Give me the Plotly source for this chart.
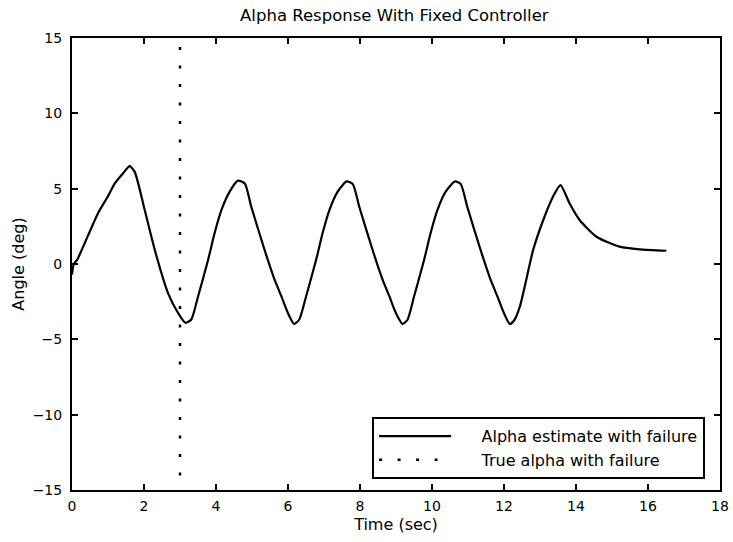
import plotly.graph_objects as go

# Alpha estimate with failure (time in sec, angle in deg)
time_est = [0, 0.05, 0.15, 0.35, 0.72, 1.0, 1.19, 1.42, 1.6, 1.74, 2.02, 2.30, 2.67, 2.95,
            3.15, 3.31, 3.5, 3.78, 3.96, 4.15, 4.38, 4.61, 4.80, 4.98, 5.35, 5.63, 5.82, 6.0,
            6.17, 6.31, 6.5, 6.78, 6.96, 7.15, 7.38, 7.63, 7.80, 7.98, 8.35, 8.63, 8.82, 9.0,
            9.18, 9.32, 9.5, 9.78, 9.96, 10.15, 10.38, 10.64, 10.80, 10.98, 11.35, 11.63, 11.82, 12.0,
            12.16, 12.28, 12.44, 12.81, 13.09, 13.36, 13.57, 13.82, 14.10, 14.57, 15.21, 15.77, 16.51]
alpha_est = [-0.7, 0.0, 0.3, 1.37, 3.36, 4.5, 5.35, 6.02, 6.5, 6.13, 3.58, 0.93, -1.95, -3.27,
             -3.9, -3.7, -2.17, 0.27, 2.04, 3.58, 4.8, 5.53, 5.35, 3.8, 0.93, -1.06, -2.17, -3.27,
             -3.98, -3.7, -2.17, 0.27, 2.04, 3.58, 4.8, 5.48, 5.3, 3.8, 0.93, -1.06, -2.17, -3.27,
             -3.98, -3.7, -2.17, 0.27, 2.04, 3.58, 4.8, 5.48, 5.3, 3.8, 0.93, -1.06, -2.17, -3.27,
             -3.98, -3.75, -2.83, 0.93, 2.92, 4.47, 5.24, 4.03, 2.92, 1.81, 1.15, 0.97, 0.88]

# True alpha with failure (vertical marker at failure time)
time_true = [3, 3]
alpha_true = [14.4, -15]

x_ticks = [0, 2, 4, 6, 8, 10, 12, 14, 16, 18]
y_ticks = [-15, -10, -5, 0, 5, 10, 15]

FONT = "DejaVu Sans"
PAD = "\u00a0" * 5

fig = go.Figure()
fig.add_trace(go.Scatter(x=time_est, y=alpha_est, mode="lines",
                         name=PAD + "Alpha estimate with failure",
                         line=dict(color="black", width=2.2, shape="spline", smoothing=0.6)))
fig.add_trace(go.Scatter(x=time_true, y=alpha_true, mode="lines",
                         name=PAD + "True alpha with failure",
                         line=dict(color="black", width=2.5, dash="3px,15.5px")))

axis_common = dict(showgrid=False, zeroline=False, showline=True, linecolor="black",
                   linewidth=2, mirror="ticks", ticks="inside", ticklen=6, tickwidth=1.5,
                   tickcolor="black", automargin=False,
                   tickfont=dict(family=FONT, size=14, color="black"))

fig.update_layout(
    width=733, height=542,
    margin=dict(l=72, r=13, t=38, b=52),
    paper_bgcolor="white", plot_bgcolor="white",
    title=dict(text="Alpha Response With Fixed Controller", x=0.538, xanchor="center",
               y=0.972, yanchor="middle",
               font=dict(family=FONT, size=16.5, color="black")),
    xaxis=dict(range=[0, 18], tickvals=x_ticks, ticklabelstandoff=2,
               title=dict(text="Time (sec)", font=dict(family=FONT, size=16, color="black"),
                          standoff=6),
               **axis_common),
    yaxis=dict(range=[-15, 15], tickvals=y_ticks, ticklabelstandoff=5,
               title=dict(text="Angle (deg)", font=dict(family=FONT, size=16, color="black"),
                          standoff=4),
               **axis_common),
    legend=dict(x=0.977, y=0.024, xanchor="right", yanchor="bottom",
                bgcolor="white", bordercolor="black", borderwidth=2,
                itemwidth=72, tracegroupgap=0,
                font=dict(family=FONT, size=16, color="black")),
    showlegend=True,
)

fig.write_html("out.html")
